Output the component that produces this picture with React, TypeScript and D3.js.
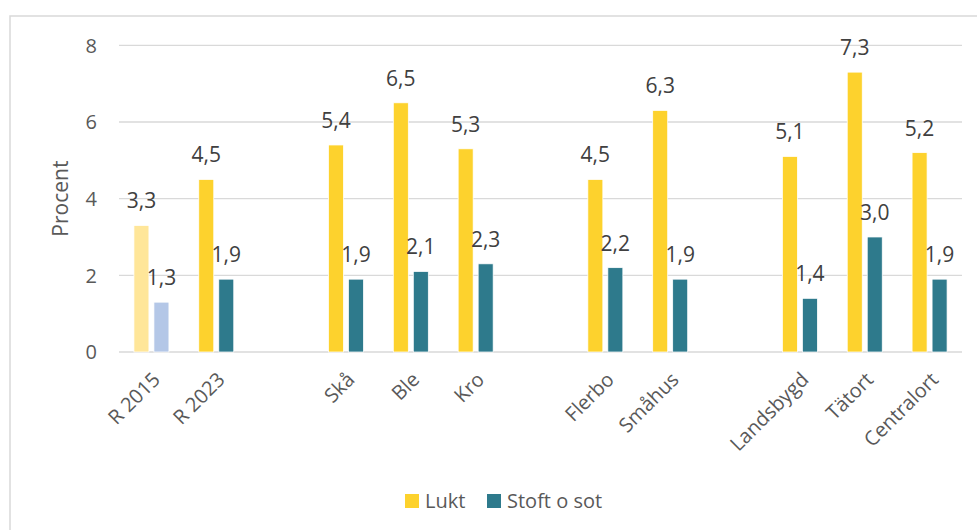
import React from "react";
import * as d3 from "d3";

// Category slots along the x axis; empty strings separate the groups
const slots = ["R 2015", "R 2023", "", "Skå", "Ble", "Kro", "", "Flerbo", "Småhus", "", "Landsbygd", "Tätort", "Centralort"];
const categories = ["R 2015", "R 2023", "Skå", "Ble", "Kro", "Flerbo", "Småhus", "Landsbygd", "Tätort", "Centralort"];
const lukt = [3.3, 4.5, 5.4, 6.5, 5.3, 4.5, 6.3, 5.1, 7.3, 5.2];
const stoft = [1.3, 1.9, 1.9, 2.1, 2.3, 2.2, 1.9, 1.4, 3.0, 1.9];
const seriesNames = ["Lukt", "Stoft o sot"];
const faded = ["R 2015"];
const yTicks = [0, 2, 4, 6, 8];

const W = 977;
const H = 530;
const FONT = "'Open Sans', 'Noto Sans', sans-serif";
const TEXT = "#595959";
const LABEL = "#404040";
const GRID = "#d9d9d9";
const COLORS = ["#FDD22D", "#2E7A8C"];
const FADED_COLORS = ["#FFE699", "#B4C7E7"];

const fmt = (v: number) => v.toFixed(1).replace(".", ",");

export default function App() {
  const x = d3.scaleBand<number>().domain(slots.map((_, i) => i)).range([119, 962]).padding(0);
  const bw = x.bandwidth();
  const x1 = d3
    .scaleBand<string>()
    .domain(seriesNames)
    .range([bw / 2 - 17.5, bw / 2 + 17.5])
    .paddingInner(0.25);
  const y = d3.scaleLinear().domain([0, 8]).range([352, 45.3]);

  const values = [lukt, stoft];

  return (
    <svg
      width={W}
      height={H}
      style={{ position: "absolute", left: 0, top: 0, display: "block", background: "#fff" }}
      fontFamily={FONT}
    >
      {/* chart frame */}
      <rect x={10} y={16} width={W + 20} height={H + 20} fill="#fff" stroke={GRID} strokeWidth={1.5} />

      {/* gridlines and y ticks */}
      {yTicks.map((t) => (
        <g key={t}>
          <line x1={119} x2={962} y1={y(t)} y2={y(t)} stroke={GRID} strokeWidth={1.3} />
          <text x={97} y={y(t)} dy="0.36em" textAnchor="end" fontSize={20} fill={TEXT}>
            {t}
          </text>
        </g>
      ))}

      {/* y axis title */}
      <text
        transform={`translate(68, ${y(4)}) rotate(-90)`}
        textAnchor="middle"
        fontSize={21}
        fill={TEXT}
      >
        Procent
      </text>

      {/* bars and value labels */}
      {categories.map((c, ci) => {
        const slot = slots.indexOf(c);
        const x0 = x(slot)!;
        return (
          <g key={c}>
            {seriesNames.map((s, si) => {
              const v = values[si][ci];
              const bx = x0 + x1(s)!;
              const fill = faded.includes(c) ? FADED_COLORS[si] : COLORS[si];
              return (
                <g key={s}>
                  <rect
                    x={bx}
                    y={y(v)}
                    width={x1.bandwidth()}
                    height={y(0) - y(v)}
                    fill={fill}
                    stroke="#fff"
                    strokeWidth={0.75}
                  />
                  <text
                    x={bx + x1.bandwidth() / 2}
                    y={y(v) - 17}
                    textAnchor="middle"
                    fontSize={21}
                    fill={LABEL}
                  >
                    {fmt(v)}
                  </text>
                </g>
              );
            })}
            <text
              transform={`translate(${x0 + bw / 2}, 371) rotate(-45)`}
              textAnchor="end"
              dy="0.7em"
              fontSize={20}
              fill={TEXT}
            >
              {c}
            </text>
          </g>
        );
      })}

      {/* legend */}
      {seriesNames.map((s, i) => {
        const lx = [405, 487][i];
        return (
          <g key={s}>
            <rect x={lx} y={494} width={14} height={14} fill={COLORS[i]} />
            <text x={lx + 20} y={508} fontSize={20} fill={TEXT}>
              {s}
            </text>
          </g>
        );
      })}
    </svg>
  );
}
